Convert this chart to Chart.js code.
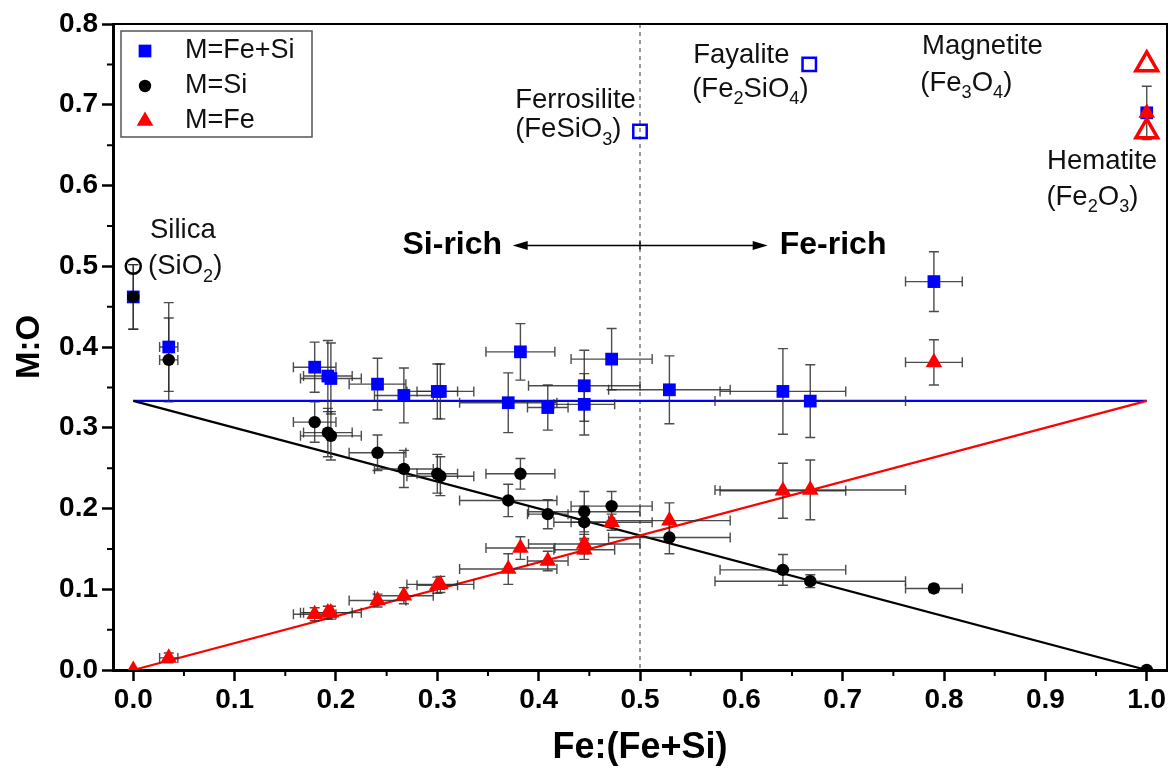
<!DOCTYPE html>
<html>
<head>
<meta charset="utf-8">
<script src="https://cdn.jsdelivr.net/npm/chart.js@4.4.0/dist/chart.umd.min.js"></script>
<style>
  html, body { margin: 0; padding: 0; background: #fff; overflow: hidden; }
  #oxChart { display: block; }
</style>
</head>
<body>
<canvas id="oxChart" width="1173" height="771"></canvas>
<script>
// Fe:(Fe+Si) of every sample, with its error
const feFrac    = [0, 0.035, 0.179, 0.192, 0.195, 0.241, 0.267, 0.300, 0.303, 0.370, 0.382, 0.409, 0.445, 0.445, 0.472, 0.529, 0.641, 0.668, 0.790, 1.0];
const feFracErr = [0, 0.009, 0.021, 0.024, 0.030, 0.028, 0.029, 0.020, 0.033, 0.048, 0.034, 0.020, 0.055, 0.030, 0.040, 0.060, 0.062, 0.094, 0.028, 0];

// M:O for M=Fe+Si, M=Si, M=Fe
const moTotal    = [0.462, 0.400, 0.375, 0.364, 0.361, 0.354, 0.340, 0.345, 0.345, 0.331, 0.394, 0.325, 0.352, 0.329, 0.385, 0.347, 0.345, 0.333, 0.481, 0.690];
const moTotalErr = [0.040, 0.055, 0.031, 0.044, 0.044, 0.032, 0.034, 0.034, 0.034, 0.037, 0.035, 0.028, 0.044, 0.038, 0.038, 0.042, 0.053, 0.045, 0.037, 0.033];
const moSi       = [0.462, 0.384, 0.307, 0.294, 0.290, 0.269, 0.249, 0.243, 0.240, 0.210, 0.243, 0.193, 0.196, 0.183, 0.203, 0.164, 0.124, 0.110, 0.101, 0];
const moSiErr    = [0.040, 0.052, 0.025, 0.030, 0.030, 0.022, 0.023, 0.024, 0.024, 0.020, 0.019, 0.018, 0.025, 0.020, 0.018, 0.020, 0.019, 0.008, 0.005, 0];
const moFe       = [0, 0.015, 0.069, 0.071, 0.071, 0.086, 0.092, 0.105, 0.106, 0.125, 0.151, 0.135, 0.156, 0.149, 0.183, 0.185, 0.222, 0.223, 0.381, 0.690];
const moFeErr    = [0, 0.006, 0.008, 0.008, 0.008, 0.008, 0.010, 0.010, 0.010, 0.019, 0.014, 0.012, 0.012, 0.012, 0.010, 0.022, 0.034, 0.037, 0.028, 0];

// reference oxides (open symbols)
const silicaX = [0],          silicaY = [0.5];
const feSiOxX = [0.5, 0.667], feSiOxY = [0.667, 0.75];   // ferrosilite, fayalite
const feOxX   = [1.0, 1.0],   feOxY   = [0.75, 0.667];   // magnetite, hematite

// stoichiometric lines
const fitX     = [0, 1];
const fitTotal = [1 / 3, 1 / 3];
const fitSi    = [1 / 3, 0];
const fitFe    = [0, 1 / 3];

const xTickValues = [0, 0.1, 0.2, 0.3, 0.4, 0.5, 0.6, 0.7, 0.8, 0.9, 1.0];
const yTickValues = [0, 0.1, 0.2, 0.3, 0.4, 0.5, 0.6, 0.7, 0.8];
const legendNames = ['M=Fe+Si', 'M=Si', 'M=Fe'];

const FONT = 'Arial, "Liberation Sans", sans-serif';
Chart.defaults.font.family = FONT;
Chart.defaults.color = '#000';

function pts(xs, ys) {
    return xs.map((x, i) => ({ x: x, y: ys[i] }));
}

function marker(ctx, style, r, x, y, fill, stroke, bw) {
    ctx.save();
    ctx.beginPath();
    if (style === 'rect') {
        const s = r * Math.SQRT1_2;
        ctx.rect(x - s, y - s, 2 * s, 2 * s);
    } else if (style === 'triangle') {
        for (let k = 0; k < 3; k++) {
            const a = k * 2 * Math.PI / 3;
            const px = x + Math.sin(a) * r, py = y - Math.cos(a) * r;
            k ? ctx.lineTo(px, py) : ctx.moveTo(px, py);
        }
        ctx.closePath();
    } else {
        ctx.arc(x, y, r, 0, Math.PI * 2);
    }
    ctx.fillStyle = fill;
    ctx.fill();
    if (bw) { ctx.lineWidth = bw; ctx.strokeStyle = stroke; ctx.stroke(); }
    ctx.restore();
}

// text with "_n" subscripts
function chemText(ctx, str, x, y, size) {
    const parts = str.split(/(_\d)/).filter(s => s.length);
    const sub = size * 0.66;
    let cx = x;
    ctx.textAlign = 'left';
    ctx.textBaseline = 'middle';
    parts.forEach(p => {
        const isSub = p[0] === '_';
        const t = isSub ? p.slice(1) : p;
        ctx.font = (isSub ? sub : size) + 'px ' + FONT;
        ctx.fillText(t, cx, isSub ? y + size * 0.36 : y);
        cx += ctx.measureText(t).width;
    });
}

const errSets = [
    { ys: moTotal, yErr: moTotalErr },
    { ys: moSi, yErr: moSiErr },
    { ys: moFe, yErr: moFeErr }
];

const decor = {
    id: 'decor',
    beforeDatasetsDraw(chart) {
        const { ctx, chartArea: a, scales: { x } } = chart;
        const px = x.getPixelForValue(0.5);
        ctx.save();
        ctx.strokeStyle = '#555';
        ctx.lineWidth = 1.2;
        ctx.setLineDash([4, 4]);
        ctx.beginPath();
        ctx.moveTo(px, a.top);
        ctx.lineTo(px, a.bottom);
        ctx.stroke();
        ctx.restore();
    },
    afterDatasetDraw(chart, args) {
        if (chart.data.datasets[args.index].label !== 'fitFe') return;
        const { ctx, scales: { x, y } } = chart;
        const cap = 5;
        ctx.save();
        ctx.strokeStyle = 'rgba(45,45,45,0.85)';
        ctx.lineWidth = 1.4;
        errSets.forEach(s => {
            feFrac.forEach((fx, i) => {
                const px = x.getPixelForValue(fx), py = y.getPixelForValue(s.ys[i]);
                ctx.beginPath();
                if (s.yErr[i] > 0) {
                    const t = y.getPixelForValue(s.ys[i] + s.yErr[i]);
                    const b = y.getPixelForValue(s.ys[i] - s.yErr[i]);
                    ctx.moveTo(px, t); ctx.lineTo(px, b);
                    ctx.moveTo(px - cap, t); ctx.lineTo(px + cap, t);
                    ctx.moveTo(px - cap, b); ctx.lineTo(px + cap, b);
                }
                if (feFracErr[i] > 0) {
                    const l = x.getPixelForValue(fx - feFracErr[i]);
                    const r = x.getPixelForValue(fx + feFracErr[i]);
                    ctx.moveTo(l, py); ctx.lineTo(r, py);
                    ctx.moveTo(l, py - cap); ctx.lineTo(l, py + cap);
                    ctx.moveTo(r, py - cap); ctx.lineTo(r, py + cap);
                }
                ctx.stroke();
            });
        });
        ctx.restore();
    },
    afterDraw(chart) {
        const { ctx, chartArea: a, scales: { x, y } } = chart;
        ctx.save();
        // frame top / right
        ctx.strokeStyle = '#000';
        ctx.lineWidth = 2;
        ctx.beginPath();
        ctx.moveTo(a.left, a.top); ctx.lineTo(a.right, a.top); ctx.lineTo(a.right, a.bottom);
        ctx.stroke();
        // minor ticks
        ctx.lineWidth = 2;
        ctx.beginPath();
        for (let v = 0.05; v < 1; v += 0.1) {
            const px = x.getPixelForValue(v);
            ctx.moveTo(px, a.bottom); ctx.lineTo(px, a.bottom + 6);
        }
        for (let v = 0.05; v < 0.8; v += 0.1) {
            const py = y.getPixelForValue(v);
            ctx.moveTo(a.left, py); ctx.lineTo(a.left - 6, py);
        }
        ctx.stroke();

        // phase labels
        ctx.fillStyle = '#111';
        const notes = [
            ['Silica', 0.0165, 0.544], ['(SiO_2)', 0.0146, 0.4994],
            ['Ferrosilite', 0.3768, 0.7055], ['(FeSiO_3)', 0.3768, 0.669],
            ['Fayalite', 0.5525, 0.7614], ['(Fe_2SiO_4)', 0.5515, 0.7195],
            ['Magnetite', 0.7783, 0.7726], ['(Fe_3O_4)', 0.7766, 0.7266],
            ['Hematite', 0.9017, 0.6298], ['(Fe_2O_3)', 0.901, 0.5857]
        ];
        notes.forEach(n => chemText(ctx, n[0], x.getPixelForValue(n[1]), y.getPixelForValue(n[2]), 27.5));

        // Si-rich / Fe-rich arrow
        const ay = y.getPixelForValue(0.5258);
        const ax1 = x.getPixelForValue(0.3744), ax2 = x.getPixelForValue(0.626), amid = x.getPixelForValue(0.5);
        ctx.strokeStyle = '#000';
        ctx.fillStyle = '#000';
        ctx.lineWidth = 1.5;
        ctx.beginPath();
        ctx.moveTo(ax1 + 10, ay); ctx.lineTo(ax2 - 10, ay);
        ctx.moveTo(amid, ay - 4); ctx.lineTo(amid, ay + 4);
        ctx.stroke();
        [[ax1, 1], [ax2, -1]].forEach(([tx, d]) => {
            ctx.beginPath();
            ctx.moveTo(tx, ay);
            ctx.lineTo(tx + d * 15, ay - 4.5);
            ctx.lineTo(tx + d * 15, ay + 4.5);
            ctx.closePath();
            ctx.fill();
        });
        ctx.font = 'bold 32px ' + FONT;
        ctx.textBaseline = 'middle';
        ctx.textAlign = 'right';
        ctx.fillText('Si-rich', x.getPixelForValue(0.3639), ay);
        ctx.textAlign = 'left';
        ctx.fillText('Fe-rich', x.getPixelForValue(0.6379), ay);

        // legend box
        const lx = a.left + 8, ly = a.top + 7;
        ctx.fillStyle = '#fff';
        ctx.fillRect(lx, ly, 191, 106);
        ctx.strokeStyle = '#555';
        ctx.lineWidth = 1.5;
        ctx.strokeRect(lx, ly, 191, 106);
        const ds = chart.data.datasets;
        legendNames.forEach((name, i) => {
            const d = ds[i];
            const my = ly + 20 + i * 35;
            marker(ctx, d.pointStyle, d.pointRadius, lx + 24, my, d.backgroundColor, d.borderColor, 0);
            ctx.fillStyle = '#111';
            ctx.font = '27px ' + FONT;
            ctx.textAlign = 'left';
            ctx.textBaseline = 'middle';
            ctx.fillText(name, lx + 64, my);
        });
        ctx.restore();
    }
};

const ctx = document.getElementById('oxChart').getContext('2d');

new Chart(ctx, {
    type: 'scatter',
    data: {
        datasets: [
            { label: legendNames[0], data: pts(feFrac, moTotal), pointStyle: 'rect', pointRadius: 9,
              backgroundColor: '#0000ff', borderColor: '#0000ff', borderWidth: 0, order: 1 },
            { label: legendNames[1], data: pts(feFrac, moSi), pointStyle: 'circle', pointRadius: 6.2,
              backgroundColor: '#000', borderColor: '#000', borderWidth: 0, order: 0 },
            { label: legendNames[2], data: pts(feFrac, moFe), pointStyle: 'triangle', pointRadius: 9.6,
              backgroundColor: '#ff0000', borderColor: '#ff0000', borderWidth: 0, order: 0 },
            { label: 'silica', data: pts(silicaX, silicaY), pointStyle: 'circle', pointRadius: 7.5,
              backgroundColor: 'rgba(0,0,0,0)', borderColor: '#000', borderWidth: 2.5, order: 0 },
            { label: 'feSiOx', data: pts(feSiOxX, feSiOxY), pointStyle: 'rect', pointRadius: 9.5,
              backgroundColor: 'rgba(0,0,0,0)', borderColor: '#0000ff', borderWidth: 2.5, order: 0 },
            { label: 'feOx', data: pts(feOxX, feOxY), pointStyle: 'triangle', pointRadius: 12.5,
              backgroundColor: 'rgba(0,0,0,0)', borderColor: '#ff0000', borderWidth: 3.5, order: 0 },
            { label: 'fitTotal', type: 'line', data: pts(fitX, fitTotal), borderColor: '#0000ff',
              borderWidth: 2.2, pointRadius: 0, fill: false, order: 4 },
            { label: 'fitSi', type: 'line', data: pts(fitX, fitSi), borderColor: '#000',
              borderWidth: 2.2, pointRadius: 0, fill: false, order: 3 },
            { label: 'fitFe', type: 'line', data: pts(fitX, fitFe), borderColor: '#ff0000',
              borderWidth: 2.2, pointRadius: 0, fill: false, order: 2 }
        ]
    },
    options: {
        responsive: false,
        animation: false,
        layout: { autoPadding: false, padding: { top: 24, right: 6, left: 0, bottom: 0 } },
        plugins: {
            legend: { display: false },
            tooltip: { enabled: false }
        },
        scales: {
            x: {
                type: 'linear',
                min: -0.02,
                max: 1.02,
                afterBuildTicks: s => { s.ticks = xTickValues.map(v => ({ value: v })); },
                afterFit: s => { s.height = 101; s.paddingLeft = 0; s.paddingRight = 0; },
                ticks: {
                    callback: v => Number(v).toFixed(1),
                    font: { size: 28, weight: 'bold' },
                    padding: 2,
                    maxRotation: 0,
                    autoSkip: false
                },
                grid: { drawOnChartArea: false, tickLength: 11, tickWidth: 2.5, tickColor: '#000' },
                border: { color: '#000', width: 3 },
                title: {
                    display: true,
                    text: 'Fe:(Fe+Si)',
                    font: { size: 36, weight: 'bold' },
                    padding: { top: 0, bottom: 1 }
                }
            },
            y: {
                type: 'linear',
                min: 0,
                max: 0.8,
                afterBuildTicks: s => { s.ticks = yTickValues.map(v => ({ value: v })); },
                afterFit: s => { s.width = 113; s.paddingTop = 0; s.paddingBottom = 0; },
                ticks: {
                    callback: v => Number(v).toFixed(1),
                    font: { size: 28, weight: 'bold' },
                    padding: 4,
                    autoSkip: false
                },
                grid: { drawOnChartArea: false, tickLength: 11, tickWidth: 2.5, tickColor: '#000' },
                border: { color: '#000', width: 3 },
                title: {
                    display: true,
                    text: 'M:O',
                    font: { size: 33, weight: 'bold' },
                    padding: { top: 10, bottom: 0 }
                }
            }
        }
    },
    plugins: [decor]
});
</script>
</body>
</html>
